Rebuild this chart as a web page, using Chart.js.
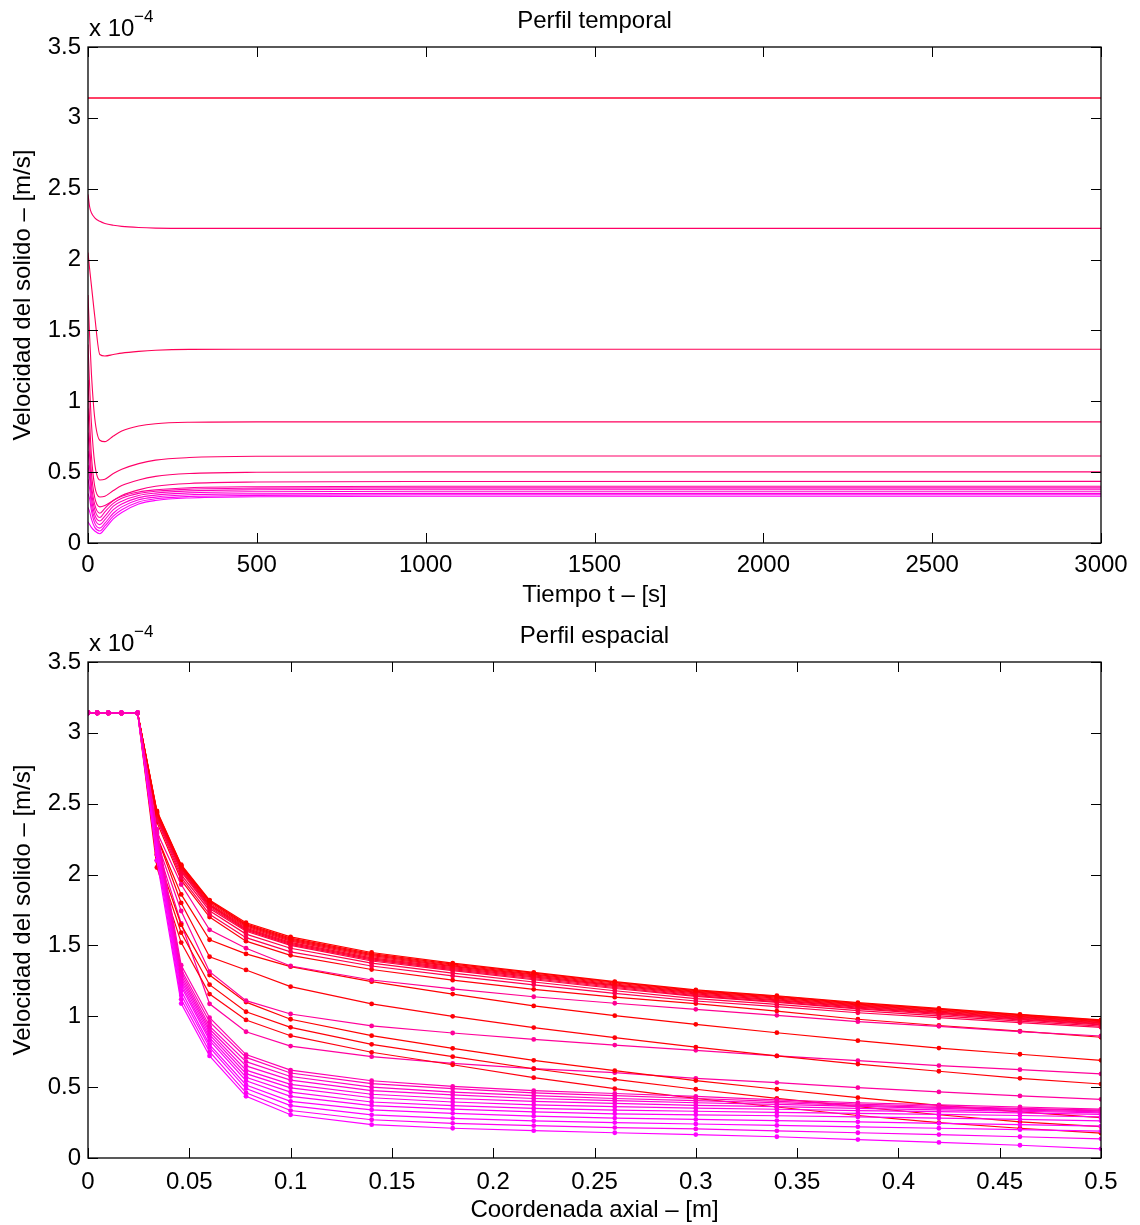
<!DOCTYPE html>
<html>
<head>
<meta charset="utf-8">
<title>Perfil temporal / Perfil espacial</title>
<script src="https://cdn.jsdelivr.net/npm/chart.js@4.4.1/dist/chart.umd.min.js"></script>
<style>
  html, body { margin: 0; padding: 0; background: #fff; }
  #wrap { position: relative; width: 1140px; height: 1225px; }
  canvas { position: absolute; left: 0; }
  #temporal { top: 0; }
  #espacial { top: 612px; }
</style>
</head>
<body>
<div id="wrap">
  <canvas id="temporal" width="1140" height="612"></canvas>
  <canvas id="espacial" width="1140" height="613"></canvas>
</div>
<script>
// --- 1. DATA (velocities in units of 1e-4 m/s) ---
const Y_TICKS = [0, 0.5, 1, 1.5, 2, 2.5, 3, 3.5];
const T_TICKS = [0, 500, 1000, 1500, 2000, 2500, 3000];
const Z_TICKS = [0, 0.05, 0.1, 0.15, 0.2, 0.25, 0.3, 0.35, 0.4, 0.45, 0.5];

// temporal profile: time points [s]
const TIME = [0, 5, 10, 20, 35, 50, 75, 100, 150, 200, 300, 500, 1000, 3000];

// one curve per axial node
const T_1 = [3.14, 3.14, 3.14, 3.14, 3.14, 3.14, 3.14, 3.14, 3.14, 3.14, 3.14, 3.14, 3.14, 3.14];
const T_2 = [2.46, 2.37, 2.33, 2.295, 2.27, 2.255, 2.242, 2.234, 2.226, 2.222, 2.22, 2.22, 2.22, 2.22];
const T_3 = [2.05, 1.93, 1.82, 1.6, 1.33, 1.32, 1.33, 1.34, 1.352, 1.36, 1.366, 1.367, 1.367, 1.367];
const T_4 = [1.75, 1.45, 1.2, 0.88, 0.725, 0.715, 0.755, 0.79, 0.825, 0.842, 0.852, 0.855, 0.855, 0.855];
const T_5 = [1.4, 1.1, 0.85, 0.56, 0.445, 0.45, 0.49, 0.52, 0.56, 0.585, 0.603, 0.612, 0.614, 0.614];
const T_6 = [1.15, 0.85, 0.62, 0.4, 0.325, 0.33, 0.37, 0.405, 0.445, 0.47, 0.49, 0.499, 0.502, 0.502];
const T_7 = [0.95, 0.7, 0.5, 0.32, 0.255, 0.265, 0.3, 0.335, 0.375, 0.4, 0.42, 0.43, 0.434, 0.435];
const T_8 = [0.78, 0.6, 0.42, 0.27, 0.21, 0.245, 0.3, 0.33, 0.36, 0.375, 0.39, 0.397, 0.4, 0.4];
const T_9 = [0.65, 0.52, 0.37, 0.235, 0.18, 0.22, 0.28, 0.315, 0.35, 0.365, 0.38, 0.387, 0.39, 0.39];
const T_10 = [0.55, 0.45, 0.32, 0.2, 0.155, 0.19, 0.26, 0.295, 0.335, 0.352, 0.368, 0.376, 0.38, 0.38];
const T_11 = [0.45, 0.38, 0.27, 0.17, 0.13, 0.165, 0.235, 0.275, 0.32, 0.338, 0.354, 0.362, 0.365, 0.365];
const T_12 = [0.35, 0.31, 0.23, 0.14, 0.105, 0.14, 0.21, 0.255, 0.305, 0.324, 0.34, 0.347, 0.35, 0.35];
const T_13 = [0.25, 0.22, 0.17, 0.11, 0.085, 0.12, 0.19, 0.235, 0.29, 0.312, 0.328, 0.336, 0.34, 0.34];
const T_14 = [0.15, 0.13, 0.11, 0.085, 0.065, 0.1, 0.17, 0.215, 0.275, 0.3, 0.318, 0.326, 0.33, 0.33];

const T_CURVES = [T_1, T_2, T_3, T_4, T_5, T_6, T_7, T_8, T_9, T_10, T_11, T_12, T_13, T_14];
const T_COLORS = ['#ff0033', '#ff0066', '#ff0055', '#ff005c', '#ff0068', '#ff0070', '#ff0080',
                  '#ff00a0', '#ff00b0', '#ff00c0', '#ff00d0', '#ff00e0', '#ff00f0', '#ff00ff'];

// spatial profile: axial nodes [m]
const Z_NODES = [0, 0.0045, 0.01, 0.0165, 0.0245, 0.034, 0.046, 0.06, 0.078, 0.1,
                 0.14, 0.18, 0.22, 0.26, 0.3, 0.34, 0.38, 0.42, 0.46, 0.5];
// first five nodes are the same for every snapshot
const INLET = [3.14, 3.14, 3.14, 3.14, 3.14];

// snapshots, values from node 0.034 on
// early times (magenta bundle)
const M_1 = [2.32, 1.36, 0.99, 0.73, 0.62, 0.545, 0.505, 0.475, 0.455, 0.435, 0.41, 0.39, 0.375, 0.36, 0.345];
const M_2 = [2.30, 1.33, 0.96, 0.71, 0.60, 0.525, 0.49, 0.46, 0.44, 0.42, 0.40, 0.38, 0.365, 0.35, 0.338];
const M_3 = [2.29, 1.31, 0.93, 0.68, 0.575, 0.50, 0.465, 0.44, 0.42, 0.405, 0.39, 0.372, 0.357, 0.345, 0.332];
const M_4 = [2.28, 1.29, 0.91, 0.65, 0.55, 0.475, 0.445, 0.42, 0.405, 0.39, 0.378, 0.364, 0.35, 0.338, 0.325];
const M_5 = [2.26, 1.27, 0.89, 0.62, 0.52, 0.45, 0.42, 0.40, 0.385, 0.372, 0.362, 0.35, 0.34, 0.33, 0.318];
const M_6 = [2.25, 1.25, 0.87, 0.595, 0.495, 0.425, 0.395, 0.375, 0.362, 0.352, 0.344, 0.335, 0.327, 0.318, 0.308];
const M_7 = [2.23, 1.23, 0.85, 0.57, 0.465, 0.395, 0.37, 0.35, 0.338, 0.33, 0.322, 0.315, 0.308, 0.3, 0.29];
const M_8 = [2.21, 1.21, 0.83, 0.545, 0.435, 0.37, 0.345, 0.325, 0.312, 0.305, 0.298, 0.29, 0.282, 0.272, 0.262];
const M_9 = [2.19, 1.18, 0.80, 0.515, 0.40, 0.34, 0.315, 0.295, 0.282, 0.272, 0.264, 0.255, 0.245, 0.235, 0.225];
const M_10 = [2.17, 1.15, 0.78, 0.49, 0.37, 0.305, 0.28, 0.262, 0.25, 0.24, 0.23, 0.22, 0.21, 0.2, 0.19];
const M_11 = [2.14, 1.12, 0.75, 0.46, 0.335, 0.27, 0.245, 0.228, 0.215, 0.205, 0.192, 0.178, 0.165, 0.15, 0.135];
const M_12 = [2.10, 1.09, 0.72, 0.435, 0.305, 0.235, 0.21, 0.193, 0.178, 0.165, 0.15, 0.13, 0.11, 0.09, 0.065];

// intermediate times
const P_A = [2.30, 1.93, 1.61, 1.48, 1.355, 1.256, 1.193, 1.138, 1.092, 1.049, 1.007, 0.962, 0.929, 0.892, 0.861];
const P_B = [2.27, 1.86, 1.54, 1.44, 1.35, 1.244, 1.157, 1.073, 1.004, 0.943, 0.884, 0.828, 0.776, 0.732, 0.689];
const P_C = [2.27, 1.80, 1.42, 1.327, 1.209, 1.087, 1.0, 0.92, 0.849, 0.783, 0.72, 0.663, 0.612, 0.562, 0.522];
const P_D = [2.23, 1.743, 1.315, 1.11, 1.016, 0.932, 0.882, 0.837, 0.797, 0.760, 0.720, 0.687, 0.652, 0.623, 0.593];
const P_E = [2.14, 1.645, 1.291, 1.10, 0.979, 0.863, 0.774, 0.689, 0.616, 0.546, 0.485, 0.426, 0.372, 0.325, 0.285];
const P_F = [2.10, 1.59, 1.223, 1.032, 0.922, 0.802, 0.715, 0.630, 0.555, 0.485, 0.421, 0.362, 0.305, 0.255, 0.221];
const P_G = [2.05, 1.52, 1.157, 0.974, 0.863, 0.746, 0.658, 0.567, 0.489, 0.421, 0.36, 0.30, 0.25, 0.21, 0.175];
const P_H = [2.20, 1.656, 1.088, 0.891, 0.790, 0.715, 0.668, 0.630, 0.602, 0.562, 0.532, 0.496, 0.466, 0.438, 0.414];

// late times (red bundle)
const R_1 = [2.45, 2.07, 1.82, 1.66, 1.56, 1.45, 1.375, 1.31, 1.245, 1.186, 1.145, 1.096, 1.056, 1.014, 0.975];
const R_2 = [2.445, 2.065, 1.815, 1.652, 1.552, 1.442, 1.368, 1.304, 1.24, 1.181, 1.14, 1.091, 1.051, 1.01, 0.971];
const R_3 = [2.44, 2.06, 1.81, 1.645, 1.545, 1.435, 1.362, 1.298, 1.235, 1.176, 1.135, 1.086, 1.046, 1.005, 0.967];
const R_4 = [2.435, 2.055, 1.80, 1.638, 1.538, 1.428, 1.356, 1.292, 1.228, 1.17, 1.128, 1.08, 1.041, 1.0, 0.962];
const R_5 = [2.43, 2.05, 1.79, 1.63, 1.53, 1.42, 1.35, 1.285, 1.222, 1.165, 1.122, 1.075, 1.036, 0.995, 0.958];
const R_6 = [2.425, 2.045, 1.785, 1.622, 1.522, 1.412, 1.343, 1.278, 1.216, 1.158, 1.116, 1.07, 1.03, 0.99, 0.953];
const R_7 = [2.42, 2.04, 1.78, 1.615, 1.515, 1.405, 1.336, 1.272, 1.21, 1.152, 1.11, 1.064, 1.025, 0.985, 0.949];
const R_8 = [2.415, 2.03, 1.77, 1.608, 1.508, 1.398, 1.329, 1.265, 1.203, 1.146, 1.104, 1.058, 1.02, 0.98, 0.944];
const R_9 = [2.41, 2.02, 1.76, 1.6, 1.5, 1.39, 1.322, 1.258, 1.196, 1.14, 1.098, 1.052, 1.014, 0.975, 0.94];
const R_10 = [2.40, 2.0, 1.745, 1.58, 1.48, 1.375, 1.305, 1.242, 1.18, 1.125, 1.084, 1.04, 1.003, 0.966, 0.931];
const R_11 = [2.39, 1.98, 1.72, 1.555, 1.455, 1.355, 1.285, 1.222, 1.162, 1.108, 1.068, 1.025, 0.99, 0.955, 0.922];
const R_12 = [2.37, 1.96, 1.70, 1.53, 1.43, 1.33, 1.255, 1.19, 1.135, 1.09, 1.037, 0.979, 0.935, 0.895, 0.852];

// first in list is drawn on top
const Z_PROFILES = [M_1, M_2, M_3, M_4, M_5, M_6, M_7, M_8, M_9, M_10, M_11, M_12,
                    P_A, P_B, P_C, P_D, P_E, P_F, P_G, P_H,
                    R_1, R_2, R_3, R_4, R_5, R_6, R_7, R_8, R_9, R_10, R_11, R_12];
const Z_COLORS = ['#ff00b0', '#ff00b8', '#ff00c4', '#ff00d0', '#ff00dc', '#ff00e4', '#ff00ec', '#ff00f4', '#ff00fa', '#ff00ff', '#ff00f0', '#ff00ff',
                  '#ff0090', '#ff0000', '#ff0008', '#ff0099', '#ff0000', '#ff0008', '#ff0010', '#ff00a0',
                  '#ff0000', '#ff0008', '#ff0010', '#ff0018', '#ff0020', '#ff0028', '#ff0030', '#ff0038',
                  '#ff0040', '#ff0048', '#ff0050', '#ff0008'];

// --- 2. SHARED STYLE ---
const FONT = '"Liberation Sans", Arial, Helvetica, sans-serif';
Chart.defaults.font.family = FONT;
Chart.defaults.font.size = 24;
Chart.defaults.color = '#000';

// box, inside ticks on all four sides, title and the x 10^-4 multiplier
const axesFrame = {
    id: 'axesFrame',
    afterDraw(chart, args, opts) {
        const { ctx, chartArea: a, scales: { x, y } } = chart;
        ctx.save();
        ctx.strokeStyle = '#000';
        ctx.lineWidth = 1.3;
        ctx.strokeRect(a.left, a.top, a.right - a.left, a.bottom - a.top);
        ctx.lineWidth = 1;
        ctx.beginPath();
        x.ticks.forEach(t => {
            const px = Math.round(x.getPixelForValue(t.value)) + 0.5;
            ctx.moveTo(px, a.bottom); ctx.lineTo(px, a.bottom - 10);
            ctx.moveTo(px, a.top); ctx.lineTo(px, a.top + 10);
        });
        y.ticks.forEach(t => {
            const py = Math.round(y.getPixelForValue(t.value)) + 0.5;
            ctx.moveTo(a.left, py); ctx.lineTo(a.left + 10, py);
            ctx.moveTo(a.right, py); ctx.lineTo(a.right - 10, py);
        });
        ctx.stroke();

        ctx.fillStyle = '#000';
        ctx.textBaseline = 'alphabetic';
        ctx.textAlign = 'center';
        ctx.font = '24px ' + FONT;
        ctx.fillText(opts.title, (a.left + a.right) / 2, a.top - 19);
        ctx.textAlign = 'left';
        ctx.fillText('x 10', a.left + 1, a.top - 11);
        ctx.font = '17px ' + FONT;
        ctx.fillText('\u22124', a.left + 46, a.top - 25);
        ctx.restore();
    }
};

function makeScales(cfg) {
    return {
        x: {
            type: 'linear',
            min: cfg.xMin, max: cfg.xMax,
            afterBuildTicks: s => { s.ticks = cfg.xTicks.map(v => ({ value: v })); },
            afterFit: s => { s.height = cfg.xHeight; },
            ticks: {
                autoSkip: false, maxRotation: 0, padding: cfg.xPad,
                callback: v => String(+v.toFixed(2))
            },
            grid: { display: false, drawTicks: false },
            border: { display: false },
            title: { display: true, text: cfg.xTitle, padding: { top: 0, bottom: cfg.xTitlePad } }
        },
        y: {
            type: 'linear',
            min: 0, max: 3.5,
            afterBuildTicks: s => { s.ticks = Y_TICKS.map(v => ({ value: v })); },
            afterFit: s => { s.width = 88; },
            ticks: { autoSkip: false, padding: 7, callback: v => String(v) },
            grid: { display: false, drawTicks: false },
            border: { display: false },
            title: { display: true, text: 'Velocidad del solido \u2013 [m/s]', padding: { top: 9, bottom: 0 } }
        }
    };
}

// --- 3. TOP CHART: Perfil temporal ---
new Chart(document.getElementById('temporal'), {
    type: 'line',
    data: {
        datasets: T_CURVES.map((vals, i) => ({
            data: TIME.map((t, k) => ({ x: t, y: vals[k] })),
            borderColor: T_COLORS[i],
            borderWidth: i === 0 ? 1.6 : 1.1,
            pointRadius: 0,
            cubicInterpolationMode: 'monotone',
            fill: false
        }))
    },
    options: {
        responsive: false,
        animation: false,
        layout: { padding: { top: 47, right: 39, bottom: 0, left: 0 } },
        plugins: { legend: { display: false }, tooltip: { enabled: false }, axesFrame: { title: 'Perfil temporal' } },
        scales: makeScales({
            xMin: 0, xMax: 3000, xTicks: T_TICKS, xHeight: 69, xPad: 8,
            xTitle: 'Tiempo t \u2013 [s]', xTitlePad: 2
        })
    },
    plugins: [axesFrame]
});

// --- 4. BOTTOM CHART: Perfil espacial ---
new Chart(document.getElementById('espacial'), {
    type: 'line',
    data: {
        datasets: Z_PROFILES.map((vals, i) => {
            const full = INLET.concat(vals);
            return {
                data: Z_NODES.map((z, k) => ({ x: z, y: full[k] })),
                borderColor: Z_COLORS[i],
                backgroundColor: Z_COLORS[i],
                borderWidth: 1.2,
                pointRadius: 2.4,
                pointBorderWidth: 0,
                pointBackgroundColor: Z_COLORS[i],
                tension: 0,
                fill: false
            };
        })
    },
    options: {
        responsive: false,
        animation: false,
        layout: { padding: { top: 50, right: 39, bottom: 0, left: 0 } },
        plugins: { legend: { display: false }, tooltip: { enabled: false }, axesFrame: { title: 'Perfil espacial' } },
        scales: makeScales({
            xMin: 0, xMax: 0.5, xTicks: Z_TICKS, xHeight: 67, xPad: 10,
            xTitle: 'Coordenada axial \u2013 [m]', xTitlePad: 0
        })
    },
    plugins: [axesFrame]
});
</script>
</body>
</html>
